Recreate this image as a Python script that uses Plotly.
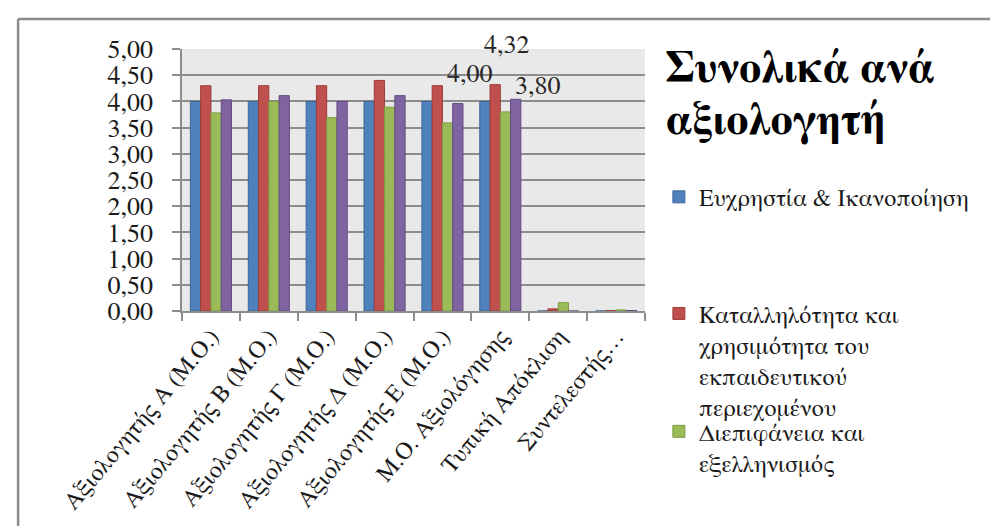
import plotly.graph_objects as go

categories = [
    "Αξιολογητής Α (Μ.Ο.)",
    "Αξιολογητής Β (Μ.Ο.)",
    "Αξιολογητής Γ (Μ.Ο.)",
    "Αξιολογητής Δ (Μ.Ο.)",
    "Αξιολογητής Ε (Μ.Ο.)",
    "Μ.Ο. Αξιολόγησης",
    "Τυπική Απόκλιση",
    "Συντελεστής…",
]

series_names = [
    "Ευχρηστία & Ικανοποίηση",
    "Καταλληλότητα και<br>χρησιμότητα του<br>εκπαιδευτικού<br>περιεχομένου",
    "Διεπιφάνεια και<br>εξελληνισμός",
    "Σύνολο",
]

blue_values = [4.00, 4.00, 4.00, 4.00, 4.00, 4.00, 0.00, 0.00]
red_values = [4.30, 4.30, 4.30, 4.40, 4.30, 4.32, 0.04, 0.01]
green_values = [3.78, 4.00, 3.69, 3.89, 3.59, 3.80, 0.16, 0.02]
purple_values = [4.03, 4.11, 4.00, 4.11, 3.96, 4.04, 0.00, 0.01]

title_lines = ["Συνολικά ανά", "αξιολογητή"]

colors = ["#4F81BD", "#C0504D", "#9BBB59", "#8064A2"]
outline = ["#3B6796", "#9E3B38", "#7D9B42", "#634C82"]

y_ticks = [0, 0.5, 1, 1.5, 2, 2.5, 3, 3.5, 4, 4.5, 5]

FONT = "FreeSerif, Liberation Serif, serif"

fig = go.Figure()
all_values = [blue_values, red_values, green_values, purple_values]
legends = ["legend", "legend2", "legend3", "legend3"]
for i, vals in enumerate(all_values):
    fig.add_trace(go.Bar(
        x=categories, y=vals, name=series_names[i],
        marker=dict(color=colors[i], line=dict(color=outline[i], width=1)),
        showlegend=(i < 3), legend=legends[i],
    ))

# data labels for the "Μ.Ο. Αξιολόγησης" group
lab_cat = categories[5]
label_specs = [
    (blue_values[5], -30, 27),
    (red_values[5], 7, 40),
    (green_values[5], 38, 26),
]
for v, xs, ys in label_specs:
    fig.add_annotation(
        x=lab_cat, y=v, xref="x", yref="y",
        text=f"{v:.2f}".replace(".", ","), showarrow=False,
        xshift=xs, yshift=ys,
        font=dict(family=FONT, size=26, color="#262626"),
    )

# title, two lines placed separately
for line, ypos in zip(title_lines, [0.925, 0.722]):
    fig.add_annotation(
        x=1.041, y=ypos, xref="paper", yref="paper",
        xanchor="left", yanchor="middle", align="left",
        text=f"<b>{line}</b>", showarrow=False,
        font=dict(family=FONT, size=44, color="#000000"),
    )

# outer frame (top and left edges)
fig.add_shape(type="line", xref="paper", yref="paper",
              x0=-0.354, x1=1.8, y0=1.1145, y1=1.1145,
              line=dict(color="#8C8C8C", width=2.5))
fig.add_shape(type="line", xref="paper", yref="paper",
              x0=-0.354, x1=-0.354, y0=1.1145, y1=-0.9,
              line=dict(color="#8C8C8C", width=2.5))

legend_common = dict(
    xanchor="left", yanchor="top",
    font=dict(family=FONT, size=24, color="#1A1A1A"),
    bgcolor="rgba(0,0,0,0)", valign="top", itemclick=False,
)

fig.update_layout(
    width=998, height=526,
    margin=dict(l=174, r=361, t=41, b=223, pad=0),
    paper_bgcolor="white",
    plot_bgcolor="#E9E9E9",
    separators=",.",
    barmode="group",
    bargap=0.29,
    bargroupgap=0,
    font=dict(family=FONT, color="#1A1A1A"),
    legend=dict(x=1.030, y=0.52, **legend_common),
    legend2=dict(x=1.030, y=0.075, **legend_common),
    legend3=dict(x=1.030, y=-0.375, **legend_common),
    xaxis=dict(
        tickangle=-50,
        tickfont=dict(family=FONT, size=24, color="#1A1A1A"),
        showline=True, linecolor="#8C8C8C", linewidth=1.5,
        ticks="outside", ticklen=8, tickcolor="#8C8C8C", tickwidth=1.5,
        tickson="boundaries", showgrid=False,
    ),
    yaxis=dict(
        range=[0, 5], tickvals=y_ticks, tickformat=".2f",
        tickfont=dict(family=FONT, size=26, color="#1A1A1A"),
        showline=True, linecolor="#8C8C8C", linewidth=1.5,
        ticks="outside", ticklen=8, tickcolor="#8C8C8C", tickwidth=1.5,
        ticklabelstandoff=14,
        showgrid=True, gridcolor="#8C8C8C", gridwidth=1.5,
        zeroline=False,
    ),
)

fig.write_html("out.html")
